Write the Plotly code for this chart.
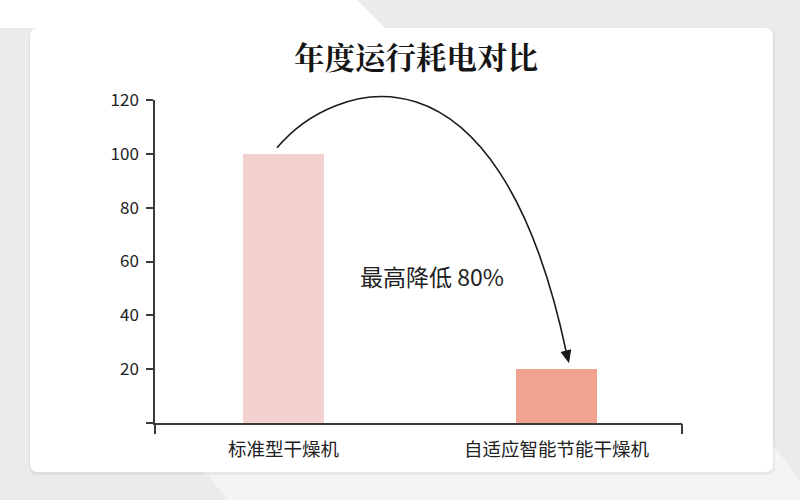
import plotly.graph_objects as go

# ---- data ----
categories = ["标准型干燥机", "自适应智能节能干燥机"]
energy = [100, 20]
bar_colors = ["#f2d1ce", "#f2a291"]
y_ticks = [0, 20, 40, 60, 80, 100, 120]
y_ticktext = ["" if v == 0 else str(v) for v in y_ticks]
title_text = "年度运行耗电对比"
reduction = round((energy[0] - energy[1]) / energy[0] * 100)
note_text = f"最高降低 {reduction}%"

# ---- layout geometry (pixels) ----
W, H = 800, 500
L, R, T, B = 155, 682, 100, 423
x_range = [-0.4707, 1.4597]
y_range = [0, 120]

def px_x(x):
    return L + (x - x_range[0]) / (x_range[1] - x_range[0]) * (R - L)

def px_y(y):
    return B - (y - y_range[0]) / (y_range[1] - y_range[0]) * (B - T)

def pp(p):
    return f"{(p[0] - L) / (R - L):.5f},{(B - p[1]) / (B - T):.5f}"

def build(cmds, close=False):
    parts = []
    for c, pts in cmds:
        parts.append(c + " " + " ".join(pp(p) for p in pts))
    s = " ".join(parts)
    return s + (" Z" if close else "")

def polygon(points):
    cmds = [("M", [points[0]])] + [("L", [p]) for p in points[1:]]
    return build(cmds, close=True)

def rounded(x0, y0, x1, y1, r):
    return build([
        ("M", [(x0 + r, y0)]), ("L", [(x1 - r, y0)]), ("Q", [(x1, y0), (x1, y0 + r)]),
        ("L", [(x1, y1 - r)]), ("Q", [(x1, y1), (x1 - r, y1)]),
        ("L", [(x0 + r, y1)]), ("Q", [(x0, y1), (x0, y1 - r)]),
        ("L", [(x0, y0 + r)]), ("Q", [(x0, y0), (x0 + r, y0)]),
    ], close=True)

fig = go.Figure()
fig.add_trace(go.Bar(
    x=[0, 1], y=energy, width=0.297,
    marker=dict(color=bar_colors, line=dict(width=0)),
    hoverinfo="skip", showlegend=False,
))
fig.add_trace(go.Scatter(
    x=[0], y=[0], xaxis="x2", mode="markers",
    marker=dict(opacity=0), hoverinfo="skip", showlegend=False,
))

shapes = []
# background decorations
shapes.append(dict(type="path", xref="paper", yref="paper", layer="below",
                   path=polygon([(0, 0), (357, 0), (385, 28), (0, 28)]),
                   fillcolor="#ffffff", line=dict(width=0)))
shapes.append(dict(type="path", xref="paper", yref="paper", layer="below",
                   path=polygon([(200, 466), (228, 500), (800, 500), (800, 482), (770, 440), (770, 466)]),
                   fillcolor="#f4f4f6", line=dict(width=0)))
# card shadow + card
shapes.append(dict(type="path", xref="paper", yref="paper", layer="below",
                   path=rounded(29, 28, 775, 475, 9), fillcolor="rgba(0,0,0,0.05)", line=dict(width=0)))
shapes.append(dict(type="path", xref="paper", yref="paper", layer="below",
                   path=rounded(30, 28, 773, 472, 8), fillcolor="#ffffff", line=dict(width=0)))

# curved arrow from top of bar 1 to top of bar 2
p0 = (px_x(0) - 6.5, px_y(energy[0]) - 6)
p3 = (px_x(1) + 12.5, px_y(energy[1]) - 6)
p1 = (p0[0] + 55, p0[1] - 66)
p2 = (p3[0] - 72, p3[1] - 340)
end = (p3[0] - 2.5, p3[1] - 10)
shapes.append(dict(type="path", xref="paper", yref="paper",
                   path=build([("M", [p0]), ("C", [p1, p2, end])]),
                   line=dict(color="#1a1a1a", width=1.6)))
# arrow head
tip = p3
ux, uy = 0.24, 0.97
hl, hw = 13, 5.5
base = (tip[0] - ux * hl, tip[1] - uy * hl)
shapes.append(dict(type="path", xref="paper", yref="paper",
                   path=polygon([tip, (base[0] - uy * hw, base[1] + ux * hw),
                                 (base[0] + uy * hw, base[1] - ux * hw)]),
                   fillcolor="#1a1a1a", line=dict(width=0)))

fig.update_layout(
    width=W, height=H,
    margin=dict(l=L, r=W - R, t=T, b=H - B, pad=0),
    paper_bgcolor="#ebebed", plot_bgcolor="rgba(0,0,0,0)",
    font=dict(family="Noto Sans CJK SC", color="#222222"),
    title=dict(text=f"<b>{title_text}</b>", x=416 / W, xanchor="center",
               y=1 - 58 / H, yanchor="middle",
               font=dict(family="Noto Serif CJK SC, Noto Sans CJK SC", size=30.5, color="#151515")),
    xaxis=dict(range=x_range, tickvals=[0, 1], ticktext=categories, ticks="",
               showline=True, linecolor="#3a3a3a", linewidth=1.5, showgrid=False, zeroline=False,
               tickfont=dict(size=18.5, color="#222222"), ticklabelstandoff=9, fixedrange=True),
    xaxis2=dict(range=x_range, overlaying="x", anchor="y", side="bottom",
                tickvals=[x_range[0] + 1e-6, x_range[1] - 1e-6], ticks="outside", ticklen=10,
                tickwidth=1.5, tickcolor="#3a3a3a", showticklabels=False, showline=False,
                showgrid=False, zeroline=False),
    yaxis=dict(range=y_range, tickvals=y_ticks, ticktext=y_ticktext, ticks="outside", ticklen=7,
               tickwidth=1.5, tickcolor="#3a3a3a", showline=True, linecolor="#3a3a3a", linewidth=1.5,
               showgrid=False, zeroline=False, tickfont=dict(size=17, color="#222222"),
               ticklabelstandoff=4),
    shapes=shapes,
    annotations=[dict(text=note_text, x=0.544, y=54.5, xref="x", yref="y", showarrow=False,
                      font=dict(size=23, color="#222222"), xanchor="center", yanchor="middle")],
    bargap=0,
)

fig.write_html("out.html", config={"displayModeBar": False},
               post_script="document.body.style.margin='0';document.body.style.overflow='hidden';")
